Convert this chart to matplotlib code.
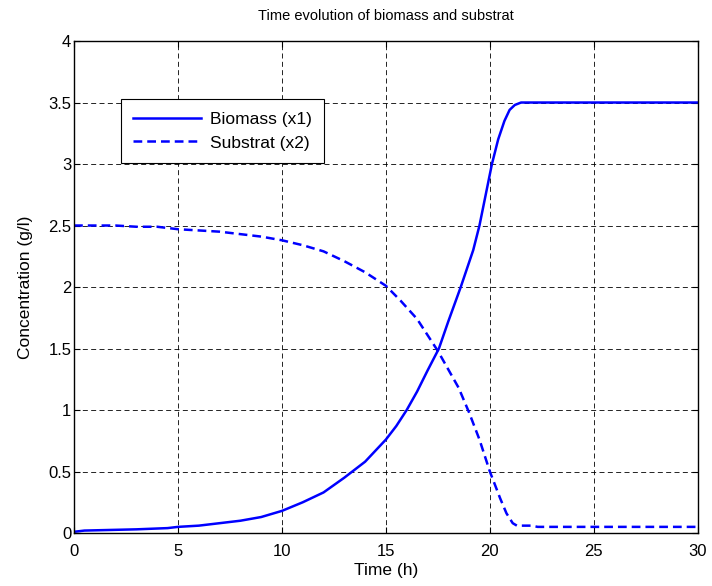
import numpy as np
import matplotlib
matplotlib.use('Agg')
import matplotlib.pyplot as plt

# values
t_bio = [0, 0.5, 3, 4.5, 5, 6, 7, 8, 9, 10, 11, 12, 13, 14, 15, 15.5, 16, 16.5, 17, 17.55,
         18, 18.6, 19.2, 19.5, 19.8, 20.1, 20.4, 20.7, 20.95, 21.2, 21.5, 30]
biomass = [0.01, 0.02, 0.03, 0.04, 0.05, 0.06, 0.08, 0.10, 0.13, 0.18, 0.25, 0.33, 0.45,
           0.58, 0.76, 0.87, 1.0, 1.15, 1.32, 1.5, 1.72, 2.0, 2.3, 2.5, 2.75, 3.0, 3.2,
           3.35, 3.44, 3.48, 3.5, 3.5]

t_sub = [0, 2, 3, 4, 5, 6, 7, 8, 9, 10, 11, 12, 13, 14, 15, 15.7, 16.5, 17.5, 18.5, 19,
         19.5, 20, 20.5, 20.8, 21.1, 21.3, 22, 22.3, 30]
substrat = [2.5, 2.5, 2.49, 2.49, 2.47, 2.46, 2.45, 2.43, 2.41, 2.38, 2.34, 2.29, 2.21,
            2.12, 2.01, 1.89, 1.74, 1.48, 1.18, 0.98, 0.76, 0.5, 0.28, 0.16, 0.08, 0.06,
            0.06, 0.05, 0.05]

plt.rcParams['font.family'] = ['Liberation Sans', 'DejaVu Sans']

fig = plt.figure(figsize=(7.12, 5.86), dpi=100)
ax = fig.add_axes([0.104, 0.0904, 0.876, 0.8396])

ax.plot(t_bio, biomass, color='blue', lw=1.8, label='Biomass (x1)')
ax.plot(t_sub, substrat, color='blue', lw=1.8, ls='--', dashes=(3.5, 2), label='Substrat (x2)')

ax.set_xlim(0, 30)
ax.set_ylim(0, 4)
ax.set_xticks(np.arange(0, 31, 5))
ax.set_yticks(np.arange(0, 4.01, 0.5))
ax.set_yticklabels(['0', '0.5', '1', '1.5', '2', '2.5', '3', '3.5', '4'])
ax.tick_params(direction='in', length=4, labelsize=12, top=True, right=True)
ax.tick_params(axis='y', pad=2)
ax.tick_params(axis='x', pad=8)
ax.grid(True, color='black', ls=(0, (6, 4)), lw=0.6)
for s in ax.spines.values():
    s.set_linewidth(1.0)

ax.set_title('Time evolution of biomass and substrat', fontsize=10.5, pad=15)
ax.set_xlabel('Time (h)', fontsize=12.5, labelpad=3)
ax.set_ylabel('Concentration (g/l)', fontsize=12.5, labelpad=11)

leg = ax.legend(loc='upper left', bbox_to_anchor=(0.075, 0.882), fontsize=12.5,
                fancybox=False, framealpha=1, edgecolor='black', handlelength=3.9,
                handletextpad=0.5, borderpad=0.72, labelspacing=0.5, borderaxespad=0)
leg.get_frame().set_linewidth(0.8)

fig.savefig('out.png', dpi=100)
